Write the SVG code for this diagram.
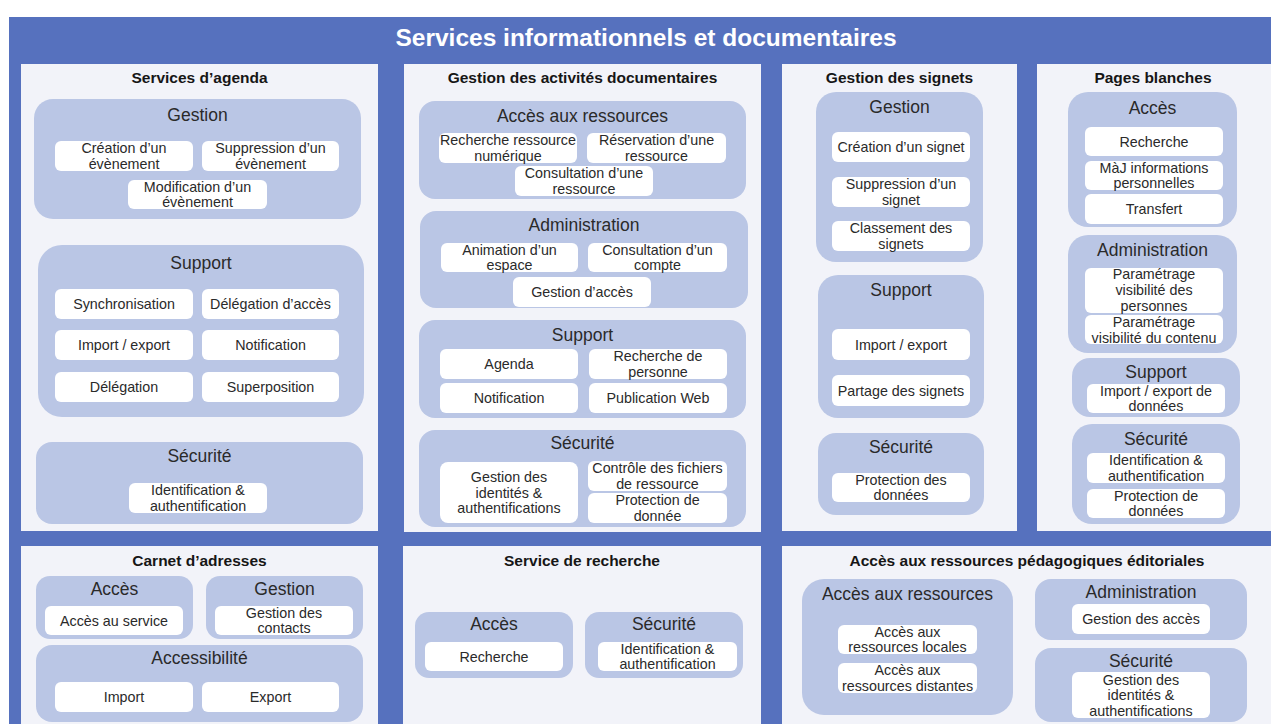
<svg xmlns="http://www.w3.org/2000/svg" width="1271" height="724" viewBox="0 0 1271 724">
<style>
.bg{fill:#5671be}
.panel{fill:#f2f3f9}
.grp{fill:#bac6e5}
.box{fill:#ffffff}
text{font-family:"Liberation Sans",Arial,sans-serif;text-anchor:middle}
.main{font-size:24.5px;font-weight:bold;fill:#ffffff}
.pt{font-size:15.5px;font-weight:bold;fill:#161616}
.gt{font-size:17.5px;fill:#2a2a2a}
.bt{font-size:14.3px;fill:#2a2a2a}
</style>
<rect width="1271" height="724" fill="#ffffff"/>
<rect class="bg" x="9" y="17" width="1262" height="707"/>
<text class="main" x="646" y="46">Services informationnels et documentaires</text>

<g id="services-agenda">
<rect class="panel" x="21" y="64" width="357" height="467"/>
<text class="pt" x="199.5" y="83">Services d’agenda</text>
<g id="agenda-gestion">
<rect class="grp" x="34" y="99" width="327" height="120" rx="19"/>
<text class="gt" x="197.5" y="121">Gestion</text>
<rect class="box" x="55" y="141" width="138" height="30" rx="6"/>
<text class="bt" x="124"><tspan x="124" y="153.25">Création d’un</tspan><tspan x="124" y="168.75">évènement</tspan></text>
<rect class="box" x="202" y="141" width="137" height="30" rx="6"/>
<text class="bt"><tspan x="270.5" y="153.25">Suppression d’un</tspan><tspan x="270.5" y="168.75">évènement</tspan></text>
<rect class="box" x="128" y="180" width="139" height="29" rx="6"/>
<text class="bt"><tspan x="197.5" y="191.75">Modification d’un</tspan><tspan x="197.5" y="207.25">évènement</tspan></text>
</g>
<g id="agenda-support">
<rect class="grp" x="38" y="245" width="326" height="172" rx="24"/>
<text class="gt" x="201" y="269">Support</text>
<rect class="box" x="55" y="289" width="138" height="30" rx="6"/>
<text class="bt" x="124" y="309">Synchronisation</text>
<rect class="box" x="202" y="289" width="137" height="30" rx="6"/>
<text class="bt" x="270.5" y="309">Délégation d’accès</text>
<rect class="box" x="55" y="330" width="138" height="30" rx="6"/>
<text class="bt" x="124" y="350">Import / export</text>
<rect class="box" x="202" y="330" width="137" height="30" rx="6"/>
<text class="bt" x="270.5" y="350">Notification</text>
<rect class="box" x="55" y="372" width="138" height="30" rx="6"/>
<text class="bt" x="124" y="392">Délégation</text>
<rect class="box" x="202" y="372" width="137" height="30" rx="6"/>
<text class="bt" x="270.5" y="392">Superposition</text>
</g>
<g id="agenda-securite">
<rect class="grp" x="36" y="442" width="327" height="82" rx="16"/>
<text class="gt" x="199.5" y="462">Sécurité</text>
<rect class="box" x="129" y="483" width="138" height="30" rx="6"/>
<text class="bt"><tspan x="198" y="495.25">Identification &amp;</tspan><tspan x="198" y="510.75">authentification</tspan></text>
</g>
</g>

<g id="activites-documentaires">
<rect class="panel" x="404" y="64" width="357" height="468"/>
<text class="pt" x="582.5" y="83">Gestion des activités documentaires</text>
<g id="doc-acces">
<rect class="grp" x="419" y="101" width="327" height="98" rx="16"/>
<text class="gt" x="582.5" y="122">Accès aux ressources</text>
<rect class="box" x="439" y="133" width="138" height="30" rx="6"/>
<text class="bt"><tspan x="508" y="145.25">Recherche ressource</tspan><tspan x="508" y="160.75">numérique</tspan></text>
<rect class="box" x="587" y="133" width="139" height="30" rx="6"/>
<text class="bt"><tspan x="656.5" y="145.25">Réservation d’une</tspan><tspan x="656.5" y="160.75">ressource</tspan></text>
<rect class="box" x="515" y="166" width="138" height="30" rx="6"/>
<text class="bt"><tspan x="584" y="178.25">Consultation d’une</tspan><tspan x="584" y="193.75">ressource</tspan></text>
</g>
<g id="doc-administration">
<rect class="grp" x="420" y="211" width="328" height="97" rx="16"/>
<text class="gt" x="584" y="231">Administration</text>
<rect class="box" x="441" y="243" width="137" height="29" rx="6"/>
<text class="bt"><tspan x="509.5" y="254.75">Animation d’un</tspan><tspan x="509.5" y="270.25">espace</tspan></text>
<rect class="box" x="588" y="243" width="139" height="29" rx="6"/>
<text class="bt"><tspan x="657.5" y="254.75">Consultation d’un</tspan><tspan x="657.5" y="270.25">compte</tspan></text>
<rect class="box" x="513" y="277" width="138" height="30" rx="6"/>
<text class="bt" x="582" y="297">Gestion d’accès</text>
</g>
<g id="doc-support">
<rect class="grp" x="419" y="320" width="327" height="98" rx="16"/>
<text class="gt" x="582.5" y="341">Support</text>
<rect class="box" x="440" y="349" width="138" height="30" rx="6"/>
<text class="bt" x="509" y="369">Agenda</text>
<rect class="box" x="589" y="349" width="138" height="30" rx="6"/>
<text class="bt"><tspan x="658" y="361.25">Recherche de</tspan><tspan x="658" y="376.75">personne</tspan></text>
<rect class="box" x="440" y="383" width="138" height="30" rx="6"/>
<text class="bt" x="509" y="403">Notification</text>
<rect class="box" x="589" y="383" width="138" height="30" rx="6"/>
<text class="bt" x="658" y="403">Publication Web</text>
</g>
<g id="doc-securite">
<rect class="grp" x="419" y="430" width="327" height="97" rx="16"/>
<text class="gt" x="582.5" y="449">Sécurité</text>
<rect class="box" x="440" y="462" width="138" height="61" rx="8"/>
<text class="bt"><tspan x="509" y="482">Gestion des</tspan><tspan x="509" y="497.5">identités &amp;</tspan><tspan x="509" y="513">authentifications</tspan></text>
<rect class="box" x="588" y="461" width="139" height="30" rx="6"/>
<text class="bt"><tspan x="657.5" y="473.25">Contrôle des fichiers</tspan><tspan x="657.5" y="488.75">de ressource</tspan></text>
<rect class="box" x="588" y="493" width="139" height="30" rx="6"/>
<text class="bt"><tspan x="657.5" y="505.25">Protection de</tspan><tspan x="657.5" y="520.75">donnée</tspan></text>
</g>
</g>

<g id="gestion-signets">
<rect class="panel" x="782" y="64" width="235" height="467"/>
<text class="pt" x="899.5" y="83">Gestion des signets</text>
<g id="signets-gestion">
<rect class="grp" x="816" y="92" width="167" height="170" rx="20"/>
<text class="gt" x="899.5" y="113">Gestion</text>
<rect class="box" x="832" y="132" width="138" height="30" rx="6"/>
<text class="bt" x="901" y="152">Création d’un signet</text>
<rect class="box" x="832" y="177" width="138" height="30" rx="6"/>
<text class="bt"><tspan x="901" y="189.25">Suppression d’un</tspan><tspan x="901" y="204.75">signet</tspan></text>
<rect class="box" x="832" y="221" width="138" height="30" rx="6"/>
<text class="bt"><tspan x="901" y="233.25">Classement des</tspan><tspan x="901" y="248.75">signets</tspan></text>
</g>
<g id="signets-support">
<rect class="grp" x="818" y="275" width="166" height="143" rx="20"/>
<text class="gt" x="901" y="296">Support</text>
<rect class="box" x="832" y="329" width="138" height="31" rx="6"/>
<text class="bt" x="901" y="350">Import / export</text>
<rect class="box" x="832" y="375" width="138" height="31" rx="6"/>
<text class="bt" x="901" y="395.5">Partage des signets</text>
</g>
<g id="signets-securite">
<rect class="grp" x="818" y="433" width="166" height="82" rx="18"/>
<text class="gt" x="901" y="453">Sécurité</text>
<rect class="box" x="832" y="473" width="138" height="29" rx="6"/>
<text class="bt"><tspan x="901" y="484.75">Protection des</tspan><tspan x="901" y="500.25">données</tspan></text>
</g>
</g>

<g id="pages-blanches">
<rect class="panel" x="1037" y="64" width="234" height="467"/>
<text class="pt" x="1153" y="83">Pages blanches</text>
<g id="pb-acces">
<rect class="grp" x="1068" y="92" width="169" height="135" rx="20"/>
<text class="gt" x="1152.5" y="114">Accès</text>
<rect class="box" x="1085" y="127" width="138" height="29" rx="6"/>
<text class="bt" x="1154" y="146.5">Recherche</text>
<rect class="box" x="1085" y="161" width="138" height="29" rx="6"/>
<text class="bt"><tspan x="1154" y="172.75">MàJ informations</tspan><tspan x="1154" y="188.25">personnelles</tspan></text>
<rect class="box" x="1085" y="194" width="138" height="30" rx="6"/>
<text class="bt" x="1154" y="214">Transfert</text>
</g>
<g id="pb-administration">
<rect class="grp" x="1068" y="235" width="169" height="118" rx="20"/>
<text class="gt" x="1152.5" y="256">Administration</text>
<rect class="box" x="1085" y="268" width="138" height="45" rx="6"/>
<text class="bt"><tspan x="1154" y="279">Paramétrage</tspan><tspan x="1154" y="295">visibilité des</tspan><tspan x="1154" y="311">personnes</tspan></text>
<rect class="box" x="1085" y="315" width="138" height="29" rx="6"/>
<text class="bt"><tspan x="1154" y="327">Paramétrage</tspan><tspan x="1154" y="342.5">visibilité du contenu</tspan></text>
</g>
<g id="pb-support">
<rect class="grp" x="1072" y="358" width="168" height="59" rx="18"/>
<text class="gt" x="1156" y="378">Support</text>
<rect class="box" x="1087" y="384" width="138" height="29" rx="6"/>
<text class="bt"><tspan x="1156" y="395.75">Import / export de</tspan><tspan x="1156" y="411.25">données</tspan></text>
</g>
<g id="pb-securite">
<rect class="grp" x="1072" y="424" width="168" height="100" rx="20"/>
<text class="gt" x="1156" y="445">Sécurité</text>
<rect class="box" x="1087" y="453" width="138" height="30" rx="6"/>
<text class="bt"><tspan x="1156" y="465.25">Identification &amp;</tspan><tspan x="1156" y="480.75">authentification</tspan></text>
<rect class="box" x="1087" y="489" width="138" height="29" rx="6"/>
<text class="bt"><tspan x="1156" y="500.75">Protection de</tspan><tspan x="1156" y="516.25">données</tspan></text>
</g>
</g>

<g id="carnet-adresses">
<rect class="panel" x="21" y="546" width="357" height="178"/>
<text class="pt" x="199.5" y="566">Carnet d’adresses</text>
<g id="ca-acces">
<rect class="grp" x="36" y="576" width="157" height="63" rx="14"/>
<text class="gt" x="114.5" y="595">Accès</text>
<rect class="box" x="45" y="606" width="138" height="29" rx="6"/>
<text class="bt" x="114" y="625.5">Accès au service</text>
</g>
<g id="ca-gestion">
<rect class="grp" x="206" y="576" width="157" height="63" rx="14"/>
<text class="gt" x="284.5" y="595">Gestion</text>
<rect class="box" x="215" y="606" width="138" height="29" rx="6"/>
<text class="bt"><tspan x="284" y="617.75">Gestion des</tspan><tspan x="284" y="633.25">contacts</tspan></text>
</g>
<g id="ca-accessibilite">
<rect class="grp" x="36" y="645" width="327" height="77" rx="16"/>
<text class="gt" x="199.5" y="664">Accessibilité</text>
<rect class="box" x="55" y="682" width="138" height="30" rx="6"/>
<text class="bt" x="124" y="702">Import</text>
<rect class="box" x="202" y="682" width="137" height="30" rx="6"/>
<text class="bt" x="270.5" y="702">Export</text>
</g>
</g>

<g id="service-recherche">
<rect class="panel" x="403" y="546" width="358" height="178"/>
<text class="pt" x="582" y="566">Service de recherche</text>
<g id="sr-acces">
<rect class="grp" x="415" y="612" width="158" height="66" rx="14"/>
<text class="gt" x="494" y="630">Accès</text>
<rect class="box" x="425" y="642" width="138" height="29" rx="6"/>
<text class="bt" x="494" y="661.5">Recherche</text>
</g>
<g id="sr-securite">
<rect class="grp" x="585" y="612" width="158" height="66" rx="14"/>
<text class="gt" x="664" y="630">Sécurité</text>
<rect class="box" x="598" y="642" width="139" height="29" rx="6"/>
<text class="bt"><tspan x="667.5" y="653.75">Identification &amp;</tspan><tspan x="667.5" y="669.25">authentification</tspan></text>
</g>
</g>

<g id="ressources-pedagogiques">
<rect class="panel" x="782" y="546" width="489" height="178"/>
<text class="pt" x="1027" y="566">Accès aux ressources pédagogiques éditoriales</text>
<g id="rp-acces">
<rect class="grp" x="802" y="579" width="211" height="136" rx="22"/>
<text class="gt" x="907.5" y="600">Accès aux ressources</text>
<rect class="box" x="838" y="625" width="139" height="29" rx="6"/>
<text class="bt"><tspan x="907.5" y="636.75">Accès aux</tspan><tspan x="907.5" y="652.25">ressources locales</tspan></text>
<rect class="box" x="838" y="663" width="139" height="30" rx="6"/>
<text class="bt"><tspan x="907.5" y="675.25">Accès aux</tspan><tspan x="907.5" y="690.75">ressources distantes</tspan></text>
</g>
<g id="rp-administration">
<rect class="grp" x="1035" y="579" width="212" height="61" rx="16"/>
<text class="gt" x="1141" y="598">Administration</text>
<rect class="box" x="1072" y="604" width="138" height="30" rx="6"/>
<text class="bt" x="1141" y="624">Gestion des accès</text>
</g>
<g id="rp-securite">
<rect class="grp" x="1035" y="648" width="212" height="74" rx="16"/>
<text class="gt" x="1141" y="667">Sécurité</text>
<rect class="box" x="1072" y="672" width="138" height="46" rx="6"/>
<text class="bt"><tspan x="1141" y="684.5">Gestion des</tspan><tspan x="1141" y="700">identités &amp;</tspan><tspan x="1141" y="715.5">authentifications</tspan></text>
</g>
</g>

<g id="connectors"></g>
</svg>
